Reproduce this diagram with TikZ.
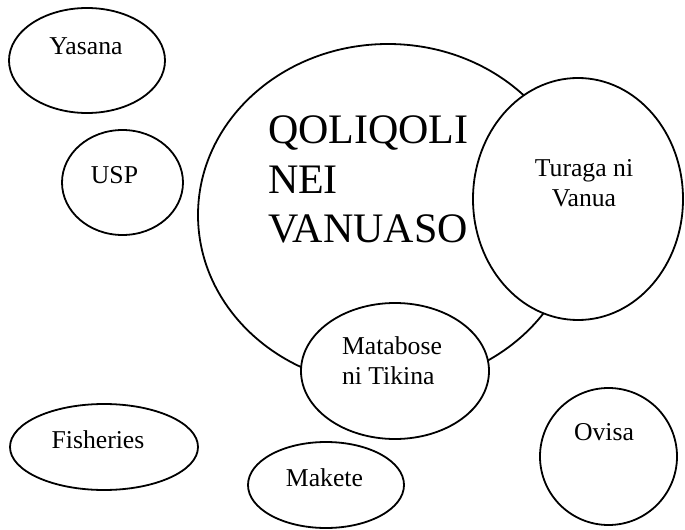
\documentclass[tikz,border=0pt]{standalone}
\usepackage{fontspec}
\setmainfont{Liberation Serif}
\usetikzlibrary{shapes.geometric}
\begin{document}
\begin{tikzpicture}[x=1bp,y=-1bp,
  oval/.style={ellipse, draw=black, line width=1.8bp, inner sep=0pt, outer sep=0pt},
  cover/.style={oval, fill=white},
  lbl/.style={font=\fontsize{25.7bp}{30bp}\selectfont, inner sep=0pt, outer sep=0pt},
  bigtxt/.style={font=\fontsize{42bp}{49.5bp}\selectfont, inner sep=0pt, outer sep=0pt, align=left}]
\useasboundingbox[fill=white] (0,0) rectangle (685,530);
% main circle
\node[oval, minimum width=380bp, minimum height=342bp] (qoli) at (388,215) {};
\node[bigtxt, anchor=base west] (qolitxt) at (268,243) {QOLIQOLI\\NEI\\VANUASO};
% overlapping ovals
\node[cover, minimum width=210bp, minimum height=242bp] (turaga) at (578,199) {};
\node[cover, minimum width=188bp, minimum height=136bp] (matabose) at (395,371) {};
% other ovals
\node[oval, minimum width=156bp, minimum height=105bp] (yasana) at (87,60.5) {};
\node[oval, minimum width=121bp, minimum height=105bp] (usp) at (122.5,182.5) {};
\node[oval, minimum width=188bp, minimum height=86bp] (fish) at (104,447) {};
\node[oval, minimum width=156bp, minimum height=86bp] (makete) at (326,485) {};
\node[oval, minimum width=137bp, minimum height=137bp] (ovisa) at (608.5,456.5) {};
% labels
\node[lbl, anchor=base] (yasanatxt) at (86,55) {Yasana};
\node[lbl, anchor=base] (usptxt) at (114.5,184) {USP};
\node[lbl, anchor=base, align=center] (turagatxt) at (584,207) {Turaga ni\\Vanua};
\node[lbl, anchor=base west, align=left] (matabosetxt) at (342,384) {Matabose\\ni Tikina};
\node[lbl, anchor=base] (fishtxt) at (98,448) {Fisheries};
\node[lbl, anchor=base] (maketetxt) at (324.5,486) {Makete};
\node[lbl, anchor=base] (ovisatxt) at (604,440) {Ovisa};
\end{tikzpicture}
\end{document}
